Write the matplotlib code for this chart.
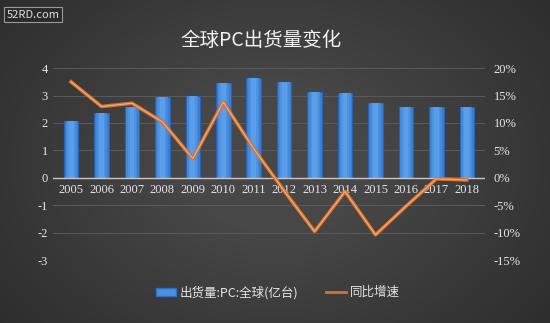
import matplotlib.pyplot as plt
import numpy as np
from matplotlib.lines import Line2D
from matplotlib.patches import Patch

plt.rcParams['font.family'] = ['Noto Sans CJK SC', 'DejaVu Sans']

# Data
years = ["2005", "2006", "2007", "2008", "2009", "2010", "2011",
         "2012", "2013", "2014", "2015", "2016", "2017", "2018"]
shipments = [2.08, 2.37, 2.57, 2.96, 3.0, 3.47, 3.63,
             3.50, 3.14, 3.08, 2.74, 2.57, 2.57, 2.57]   # 亿台
growth = [17.5, 13.0, 13.6, 10.2, 3.5, 13.8, 5.3,
          -2.4, -9.8, -2.5, -10.4, -5.2, -0.2, -0.4]     # %

left_ticks = [-3, -2, -1, 0, 1, 2, 3, 4]
right_ticks = [-15, -10, -5, 0, 5, 10, 15, 20]

fig = plt.figure(figsize=(5.5, 3.23), dpi=100)

# dark vignette background
bg = fig.add_axes([0, 0, 1, 1], zorder=-10)
yy, xx = np.mgrid[-1:1:200j, -1:1:300j]
r = np.sqrt((xx * 0.9) ** 2 + (yy * 0.7) ** 2)
shade = 0.28 - 0.12 * np.clip(r - 0.3, 0, 1)
bg.imshow(np.dstack([shade, shade, shade]), aspect='auto', extent=[0, 1, 0, 1])
bg.axis('off')

ax = fig.add_axes([0.096, 0.195, 0.786, 0.594])
ax.set_facecolor('none')
x = np.arange(len(years))

# bars with a soft horizontal gradient (lighter in the middle)
ax.bar(x, shipments, width=0.48, color='#3a7fd6', edgecolor='#2a62b0', linewidth=0.8, zorder=2)
for w, c in [(0.36, '#4589dc'), (0.26, '#4f93e3'), (0.16, '#5a9de9')]:
    ax.bar(x, shipments, width=w, color=c, linewidth=0, zorder=2)
ax.set_ylim(-3, 4)
ax.set_xlim(-0.6, len(years) - 0.4)
ax.set_yticks(left_ticks)
ax.set_yticklabels([str(t) for t in left_ticks], family='Liberation Serif')
ax.grid(axis='y', color='#5a5a5a', linewidth=0.7, zorder=0)
ax.axhline(0, color='#c8c8c8', linewidth=1.0, zorder=3)

for s in ax.spines.values():
    s.set_visible(False)
ax.tick_params(length=0, colors='#e6e6e6', labelsize=9)
ax.set_xticks([])
for xi, yr in zip(x, years):
    ax.text(xi, -0.22, yr, ha='center', va='top', color='#e6e6e6',
            fontsize=9, family='Liberation Serif', zorder=4)

ax2 = ax.twinx()
ax2.set_ylim(-15, 20)
ax2.set_yticks(right_ticks)
ax2.set_yticklabels([f"{t}%" for t in right_ticks], family='Liberation Serif')
ax2.plot(x, growth, color='#d9702e', linewidth=2.6, zorder=5)
ax2.plot(x, growth, color='#f0b080', linewidth=0.8, zorder=6)
for s in ax2.spines.values():
    s.set_visible(False)
ax2.tick_params(length=0, colors='#e6e6e6', labelsize=9, pad=6)

fig.text(0.475, 0.875, "全球PC出货量变化", ha='center', va='center',
         color='#f2f2f2', fontsize=14, family=['Noto Sans CJK SC', 'DejaVu Sans'])

fig.text(0.012, 0.955, "52RD.com", ha='left', va='center', color='#e0e0e0', fontsize=8,
         bbox=dict(boxstyle='square,pad=0.25', facecolor='#2a2a2a', edgecolor='#9a9a9a', linewidth=0.8))

handles = [Patch(facecolor='#4a8fe0', edgecolor='#2f6fc0'),
           Line2D([0], [0], color='#d9702e', linewidth=2)]
leg = fig.legend(handles, ["出货量:PC:全球(亿台)", "同比增速"], loc='center',
                 bbox_to_anchor=(0.505, 0.095), ncol=2, frameon=False, fontsize=9,
                 handlelength=1.6, handleheight=0.6, columnspacing=2.2, handletextpad=0.3)
for t in leg.get_texts():
    t.set_color('#e6e6e6')

fig.savefig("out.png", dpi=100)
